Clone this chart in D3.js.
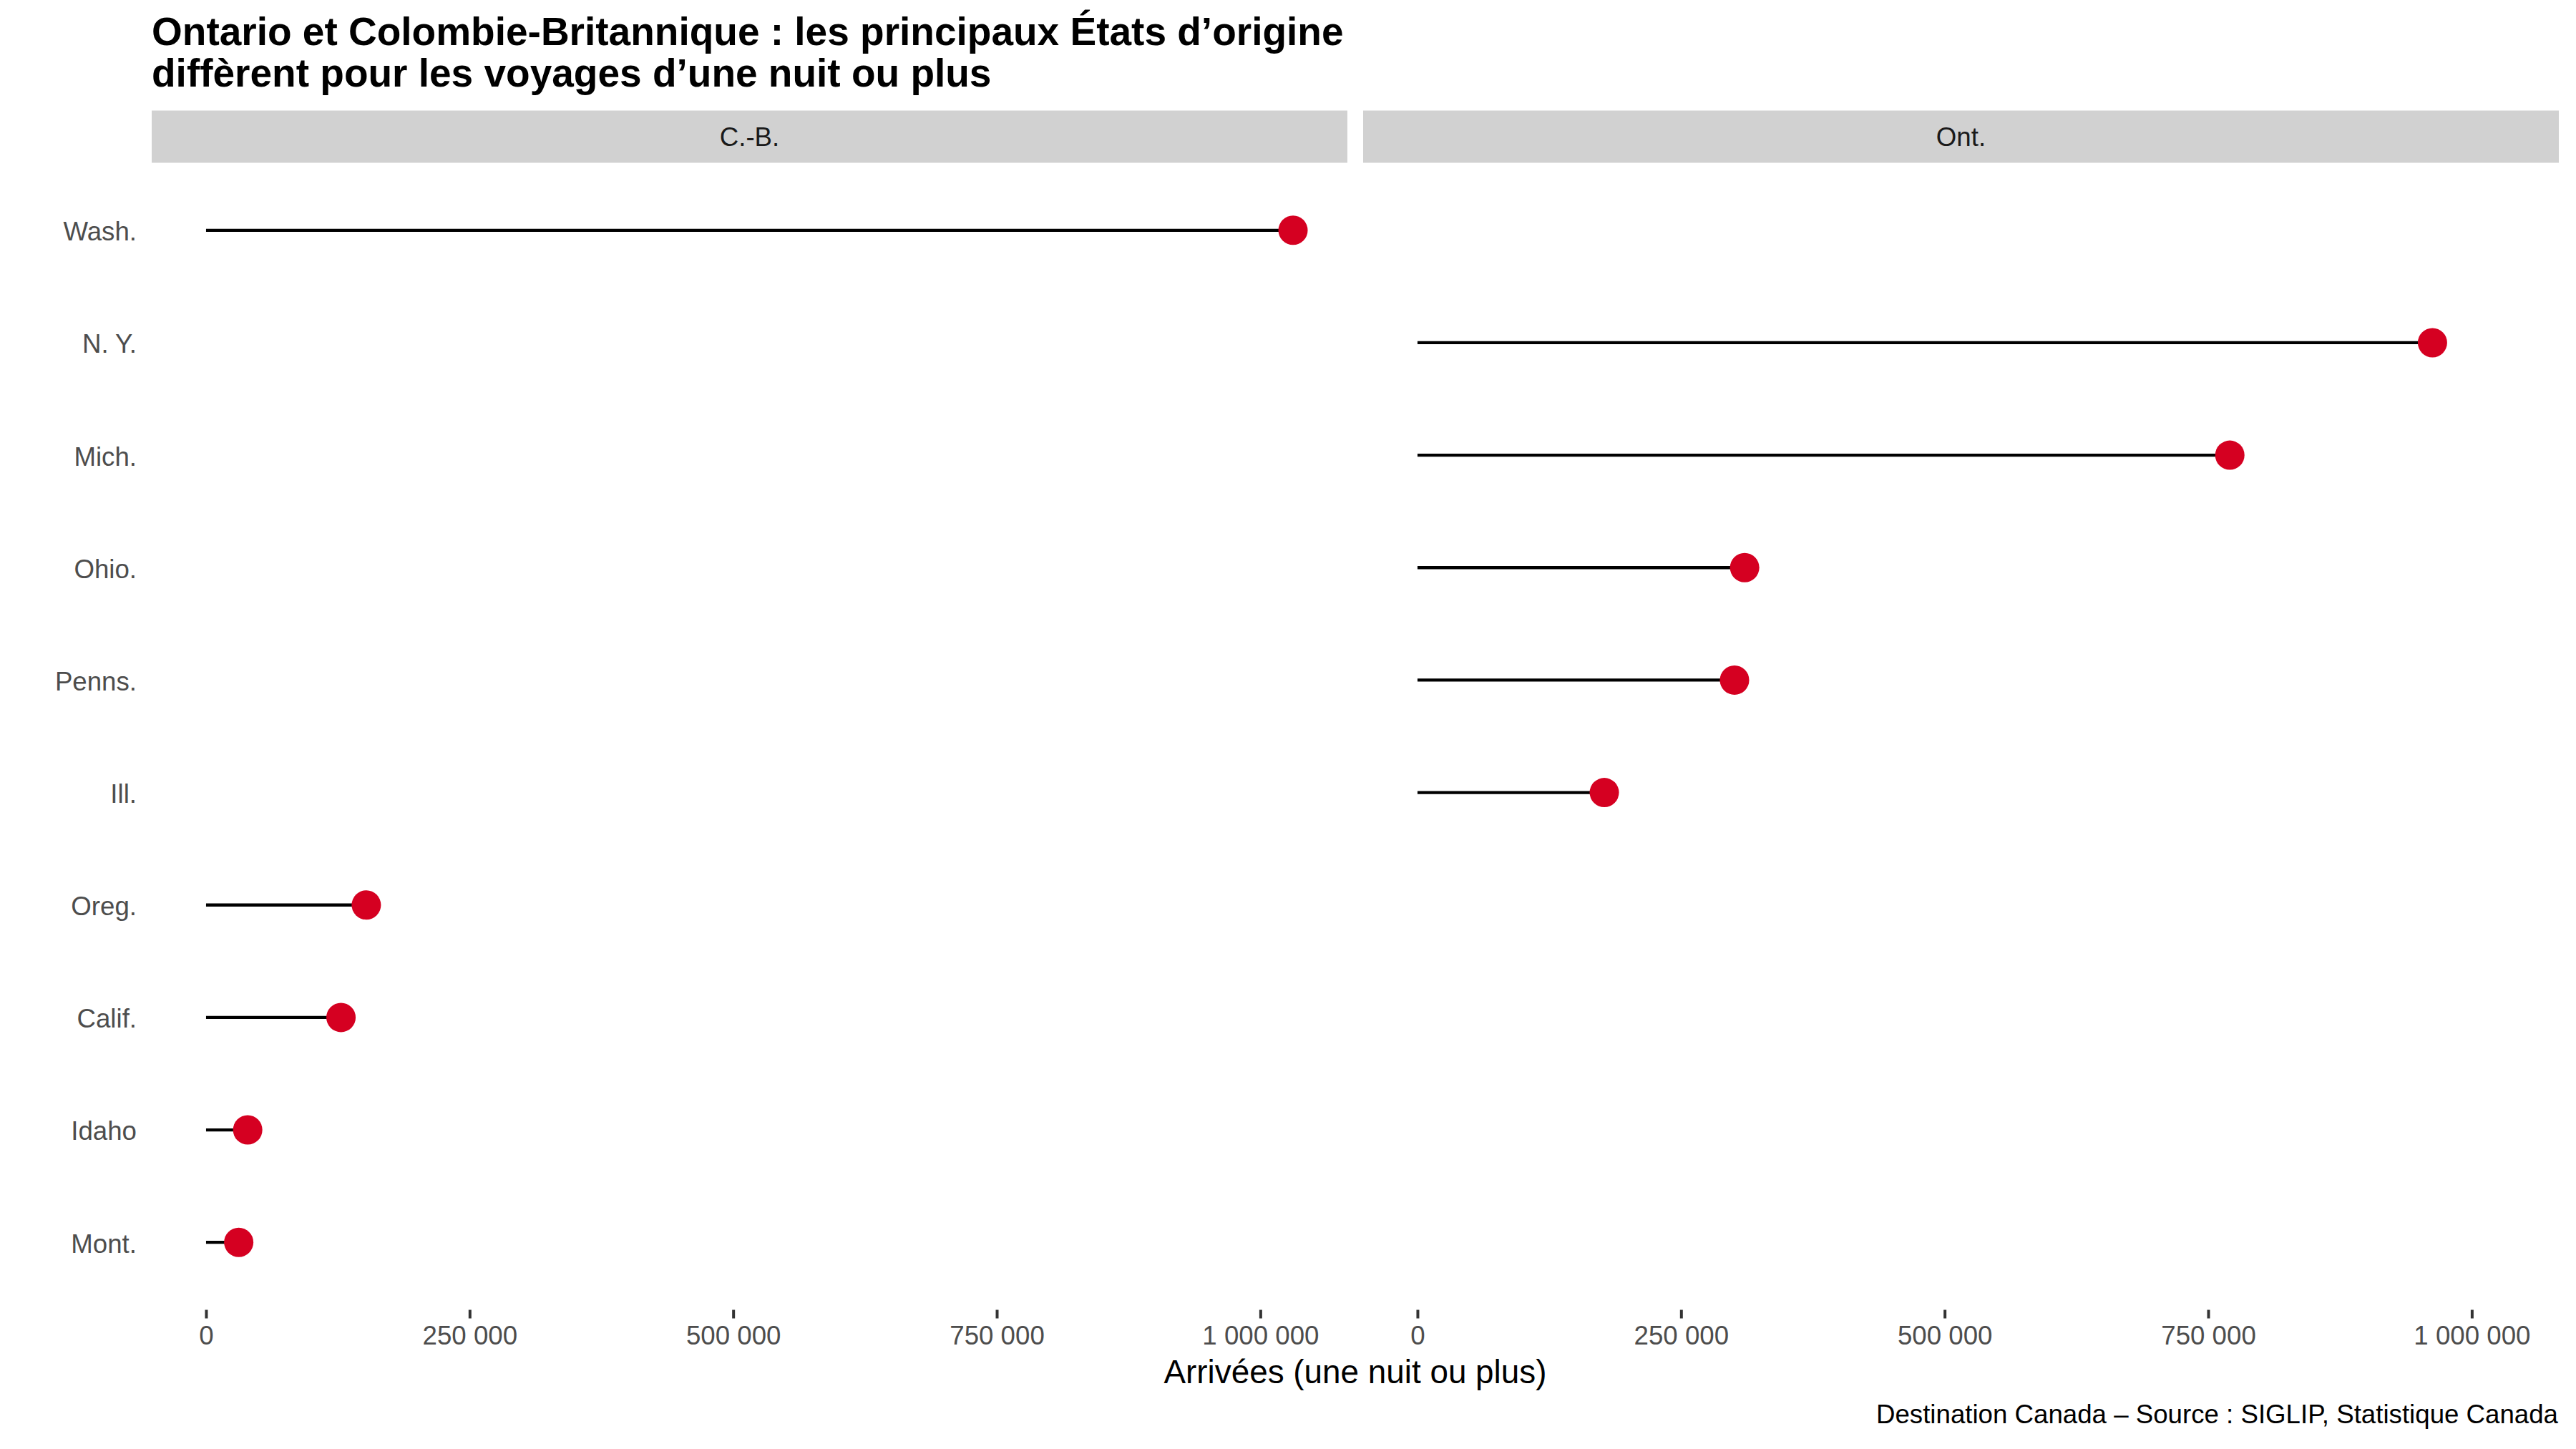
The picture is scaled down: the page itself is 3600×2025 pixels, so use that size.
<!DOCTYPE html>
<html>
<head>
<meta charset="utf-8">
<script src="https://cdn.jsdelivr.net/npm/d3@7"></script>
<style>
  html, body { margin: 0; padding: 0; background: #ffffff; }
  svg { display: block; }
  text { font-family: "Liberation Sans", Arial, Helvetica, sans-serif; }
</style>
</head>
<body>
<svg id="chart" width="3600" height="2025"></svg>
<script>
// ---- Data ----
const states = ["Wash.", "N. Y.", "Mich.", "Ohio.", "Penns.", "Ill.", "Oreg.", "Calif.", "Idaho", "Mont."];
const provinces = ["C.-B.", "Ont."];
const bcStates = ["Wash.", "Oreg.", "Calif.", "Idaho", "Mont."];
const bcValues = [1031000, 152000, 128000, 39500, 31000];
const onStates = ["N. Y.", "Mich.", "Ohio.", "Penns.", "Ill."];
const onValues = [962700, 770500, 310300, 300700, 177200];
const xTicks = [0, 250000, 500000, 750000, 1000000];

const titleLines = [
  "Ontario et Colombie-Britannique : les principaux États d’origine",
  "diffèrent pour les voyages d’une nuit ou plus"
];
const xTitle = "Arrivées (une nuit ou plus)";
const caption = "Destination Canada – Source : SIGLIP, Statistique Canada";

// ---- Layout ----
const W = 3600, H = 2025;
const panelTop = 227.5, panelBottom = 1830.5;
const stripTop = 154.5;
const panels = [
  { name: provinces[0], x0: 212, x1: 1883, states: bcStates, values: bcValues },
  { name: provinces[1], x0: 1905, x1: 3576, states: onStates, values: onValues }
];

const svg = d3.select("#chart");
svg.append("rect").attr("width", W).attr("height", H).attr("fill", "#ffffff");

const locale = d3.formatLocale({ decimal: ",", thousands: "\u00a0", grouping: [3], currency: ["", " $"] });
const fmt = locale.format(",d");

const allValues = bcValues.concat(onValues);
const maxV = d3.max(allValues);
const pad = 0.05 * (maxV - 0);
const xDomain = [0 - pad, maxV + pad];

const y = d3.scalePoint().domain(states).range([panelTop, panelBottom]).padding(0.6);

// Title
const title = svg.append("text")
  .attr("x", 212)
  .attr("font-size", 55)
  .attr("font-weight", "bold")
  .attr("fill", "#000000");
titleLines.forEach((t, i) => {
  title.append("tspan").attr("x", 212).attr("y", 63 + i * 58).text(t);
});

// Y axis labels
const yAxis = d3.axisLeft(y).tickSize(0).tickPadding(0);
const gy = svg.append("g").attr("transform", "translate(191,0)").call(yAxis);
gy.select(".domain").remove();
gy.selectAll("text")
  .attr("font-size", 36.67)
  .attr("fill", "#4d4d4d")
  .attr("dy", "0.38em")
  .attr("font-family", "Liberation Sans, Arial, sans-serif");

panels.forEach(p => {
  const x = d3.scaleLinear().domain(xDomain).range([p.x0, p.x1]);

  // strip
  svg.append("rect")
    .attr("x", p.x0).attr("y", stripTop)
    .attr("width", p.x1 - p.x0).attr("height", panelTop - stripTop)
    .attr("fill", "#d1d1d1");
  svg.append("text")
    .attr("x", (p.x0 + p.x1) / 2)
    .attr("y", (stripTop + panelTop) / 2)
    .attr("dy", "0.35em")
    .attr("text-anchor", "middle")
    .attr("font-size", 36.67)
    .attr("fill", "#1a1a1a")
    .text(p.name);

  const data = p.states.map((s, i) => ({ state: s, value: p.values[i] }));

  // segments
  svg.append("g").selectAll("line").data(data).join("line")
    .attr("x1", x(0)).attr("x2", d => x(d.value))
    .attr("y1", d => y(d.state)).attr("y2", d => y(d.state))
    .attr("stroke", "#000000").attr("stroke-width", 4.3);

  // points
  svg.append("g").selectAll("circle").data(data).join("circle")
    .attr("cx", d => x(d.value)).attr("cy", d => y(d.state))
    .attr("r", 20.5).attr("fill", "#d50021");

  // x axis
  const xAxis = d3.axisBottom(x).tickValues(xTicks).tickFormat(fmt).tickSize(12).tickPadding(10);
  const gx = svg.append("g").attr("transform", `translate(0,${panelBottom})`).call(xAxis);
  gx.select(".domain").remove();
  gx.selectAll(".tick line").attr("stroke", "#333333").attr("stroke-width", 4);
  gx.selectAll("text")
    .attr("font-size", 36.67)
    .attr("fill", "#4d4d4d")
    .attr("font-family", "Liberation Sans, Arial, sans-serif");
});

// x axis title
svg.append("text")
  .attr("x", (212 + 3576) / 2).attr("y", 1933)
  .attr("text-anchor", "middle")
  .attr("font-size", 45.83)
  .attr("fill", "#000000")
  .text(xTitle);

// caption
svg.append("text")
  .attr("x", 3575).attr("y", 1989)
  .attr("text-anchor", "end")
  .attr("font-size", 36.67)
  .attr("fill", "#000000")
  .text(caption);
</script>
</body>
</html>
